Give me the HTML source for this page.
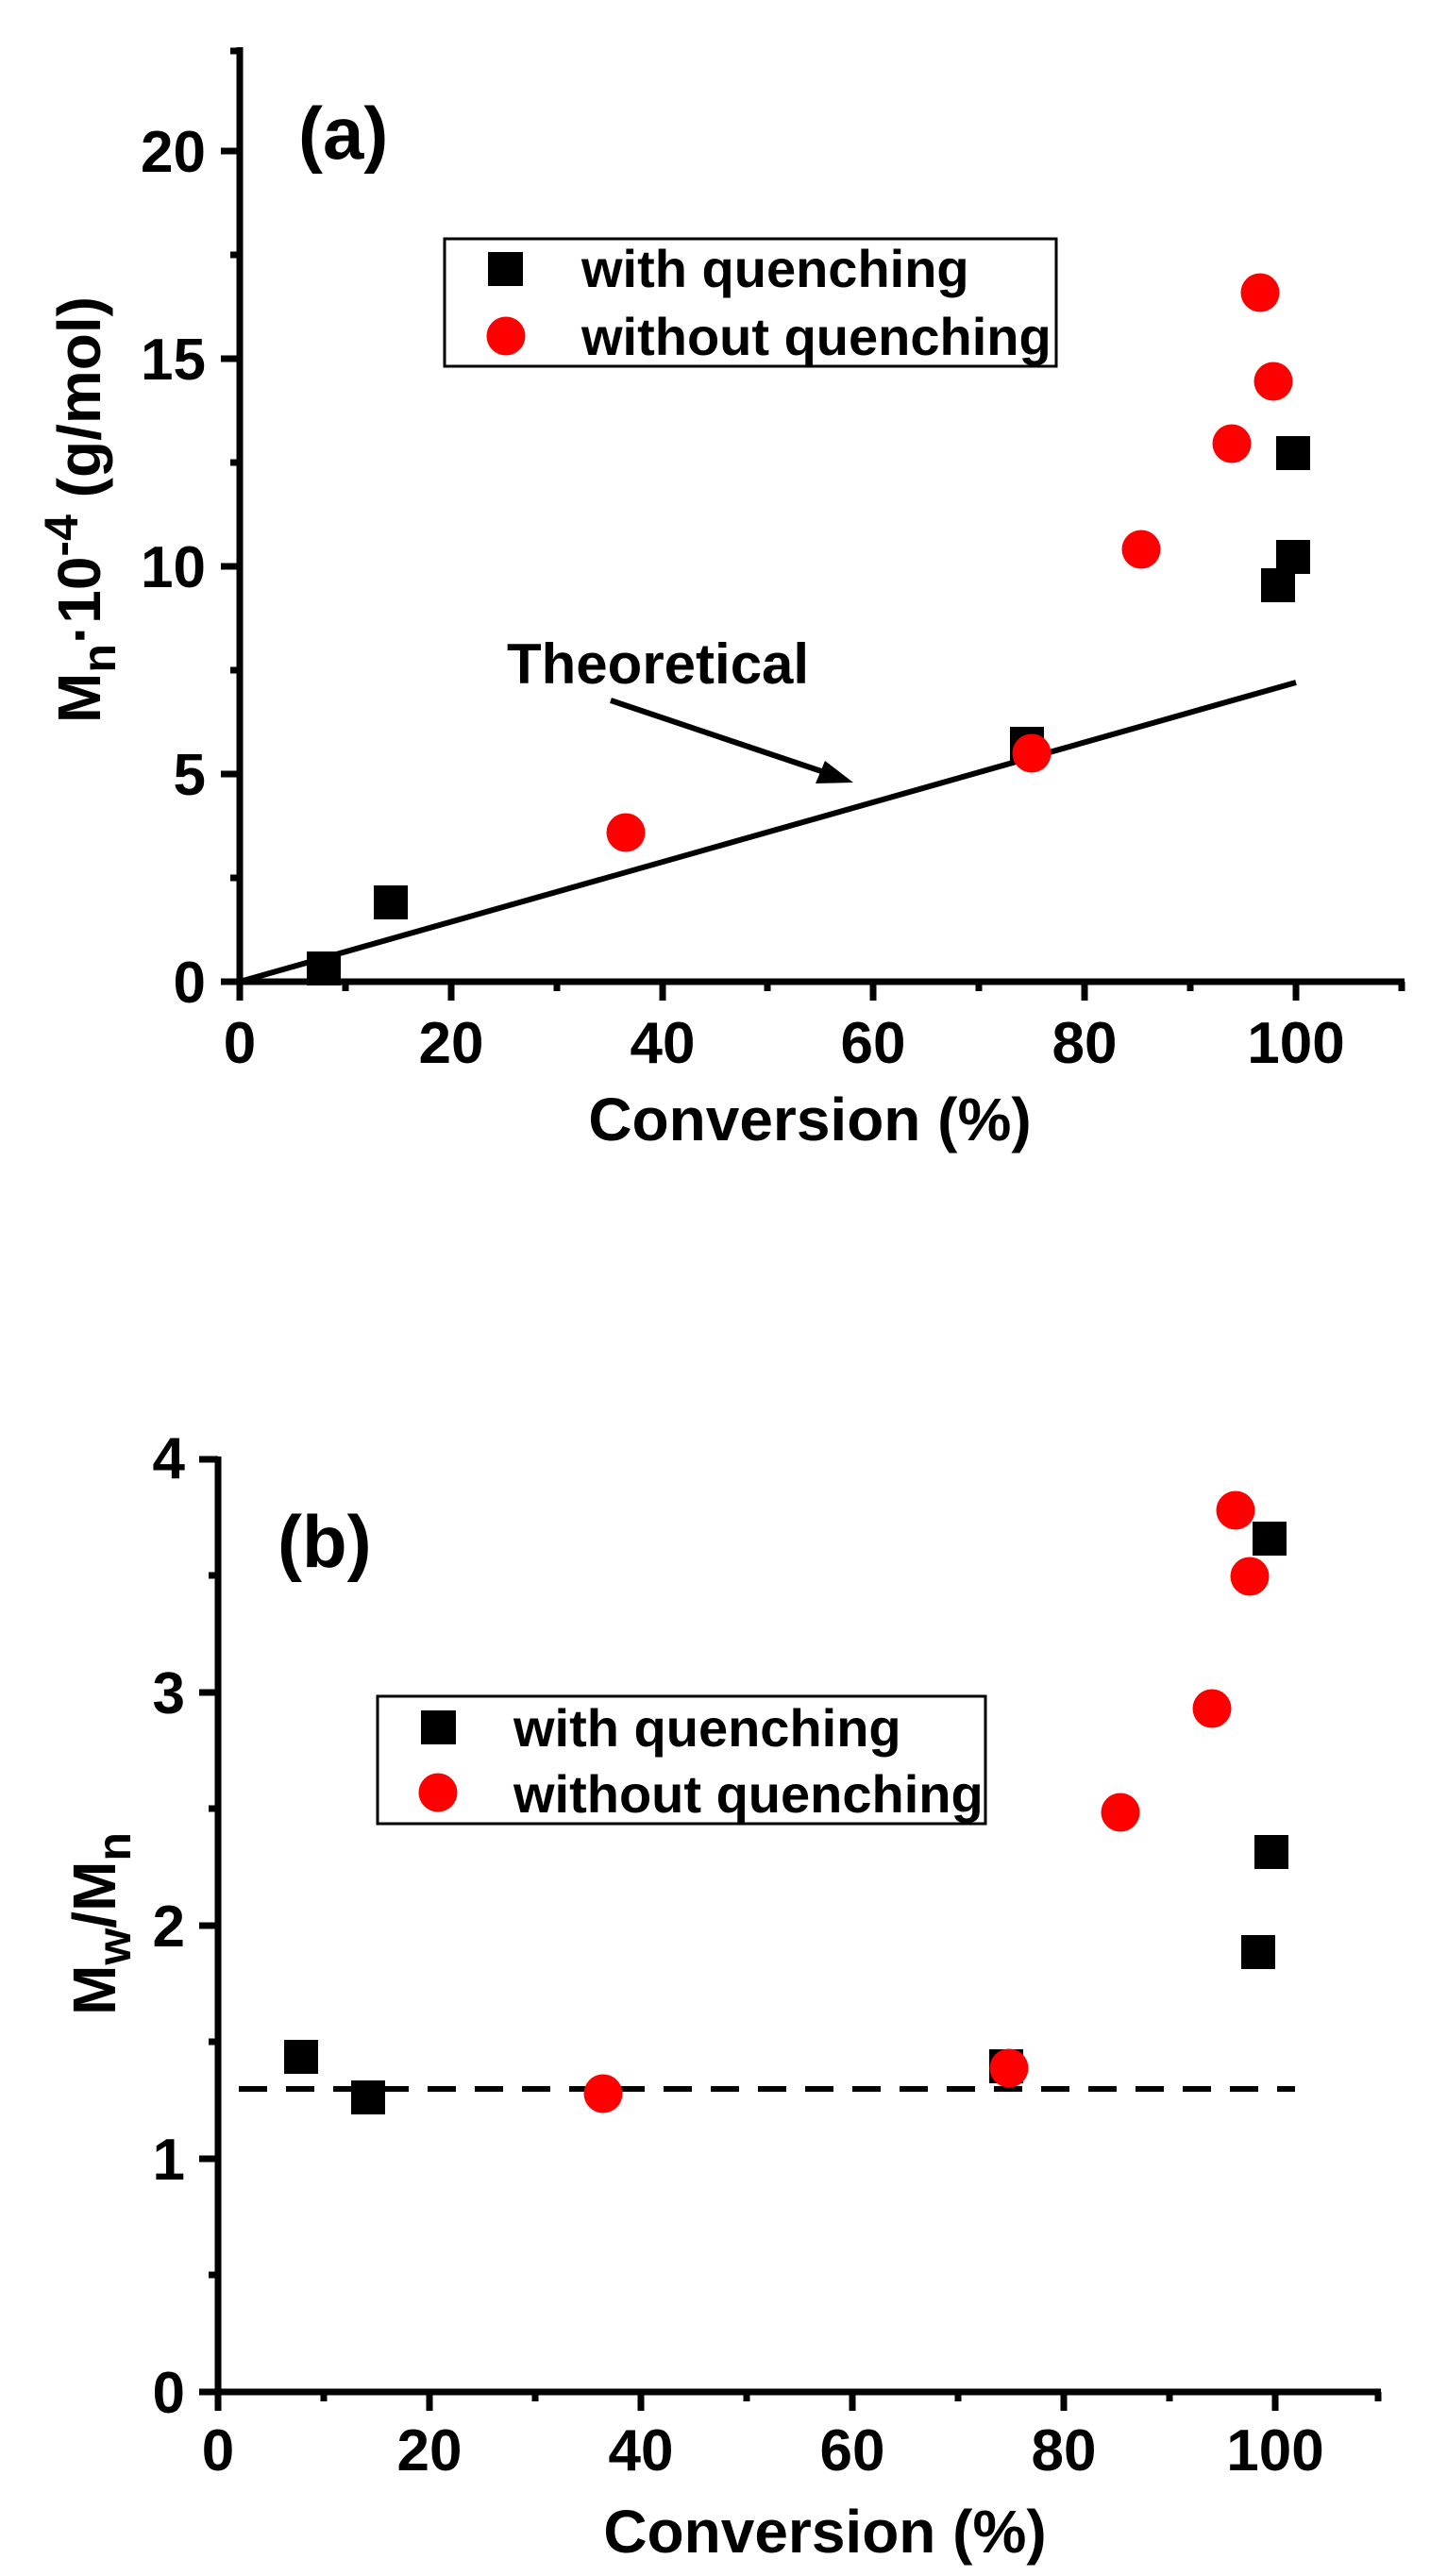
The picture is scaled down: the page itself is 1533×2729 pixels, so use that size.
<!DOCTYPE html>
<html><head><meta charset="utf-8"><style>
html,body{margin:0;padding:0;background:#fff;}
svg{display:block;}
text{font-family:"Liberation Sans",Arial,sans-serif;font-weight:bold;fill:#000;}
</style></head><body>
<svg width="1533" height="2729" viewBox="0 0 1533 2729" xmlns="http://www.w3.org/2000/svg">
<!-- ============ Chart (a) ============ -->
<g stroke="#000" stroke-width="7" fill="none">
<line x1="254" y1="50" x2="254" y2="1044"/>
<line x1="250" y1="1040" x2="1488" y2="1040"/>
</g>
<g stroke="#000" stroke-width="7">
<line x1="254" y1="1040" x2="254" y2="1060"/>
<line x1="478" y1="1040" x2="478" y2="1060"/>
<line x1="702" y1="1040" x2="702" y2="1060"/>
<line x1="925" y1="1040" x2="925" y2="1060"/>
<line x1="1149" y1="1040" x2="1149" y2="1060"/>
<line x1="1373" y1="1040" x2="1373" y2="1060"/>
<line x1="366" y1="1040" x2="366" y2="1050"/>
<line x1="590" y1="1040" x2="590" y2="1050"/>
<line x1="813" y1="1040" x2="813" y2="1050"/>
<line x1="1037" y1="1040" x2="1037" y2="1050"/>
<line x1="1261" y1="1040" x2="1261" y2="1050"/>
<line x1="1485" y1="1040" x2="1485" y2="1050"/>
<line x1="234" y1="1040" x2="254" y2="1040"/>
<line x1="234" y1="820" x2="254" y2="820"/>
<line x1="234" y1="600" x2="254" y2="600"/>
<line x1="234" y1="380" x2="254" y2="380"/>
<line x1="234" y1="160" x2="254" y2="160"/>
<line x1="244" y1="930" x2="254" y2="930"/>
<line x1="244" y1="710" x2="254" y2="710"/>
<line x1="244" y1="490" x2="254" y2="490"/>
<line x1="244" y1="270" x2="254" y2="270"/>
<line x1="244" y1="54" x2="254" y2="54"/>
</g>
<g font-size="62" text-anchor="middle">
<text x="254" y="1126">0</text>
<text x="478" y="1126">20</text>
<text x="702" y="1126">40</text>
<text x="925" y="1126">60</text>
<text x="1149" y="1126">80</text>
<text x="1373" y="1126">100</text>
</g>
<g font-size="62" text-anchor="end">
<text x="218" y="1062">0</text>
<text x="218" y="842">5</text>
<text x="218" y="622">10</text>
<text x="218" y="402">15</text>
<text x="218" y="182">20</text>
</g>
<text x="858" y="1208" font-size="64" text-anchor="middle">Conversion (%)</text>
<text transform="translate(106,540) rotate(-90)" font-size="64" text-anchor="middle">M<tspan font-size="50" dy="16">n</tspan><tspan dy="-16">·10</tspan><tspan font-size="50" dy="-24">-4</tspan><tspan dy="24"> (g/mol)</tspan></text>
<text x="316" y="168" font-size="78">(a)</text>
<line x1="254" y1="1040" x2="1373" y2="723" stroke="#000" stroke-width="6"/>
<text x="537" y="724" font-size="60">Theoretical</text>
<line x1="647" y1="742" x2="885" y2="822" stroke="#000" stroke-width="6"/>
<polygon points="904,829 864,830 874,806" fill="#000"/>
<rect x="471" y="253" width="648" height="135" fill="none" stroke="#000" stroke-width="3"/>
<rect x="517" y="267" width="37" height="36" fill="#000"/>
<circle cx="536" cy="356" r="20.5" fill="#f00"/>
<text x="616" y="304" font-size="56">with quenching</text>
<text x="616" y="376" font-size="56">without quenching</text>
<g fill="#000">
<rect x="325" y="1008" width="36" height="36"/>
<rect x="396" y="938" width="36" height="36"/>
<rect x="1070" y="770" width="36" height="36"/>
<rect x="1336" y="602" width="36" height="36"/>
<rect x="1352" y="572" width="36" height="36"/>
<rect x="1352" y="462" width="36" height="36"/>
</g>
<g fill="#f00">
<circle cx="663" cy="882" r="20.5"/>
<circle cx="1093" cy="798" r="20.5"/>
<circle cx="1209" cy="582" r="20.5"/>
<circle cx="1305" cy="470" r="20.5"/>
<circle cx="1335" cy="310" r="20.5"/>
<circle cx="1349" cy="404" r="20.5"/>
</g>

<!-- ============ Chart (b) ============ -->
<g stroke="#000" stroke-width="7" fill="none">
<line x1="231" y1="1543" x2="231" y2="2538"/>
<line x1="227" y1="2534" x2="1463" y2="2534"/>
</g>
<g stroke="#000" stroke-width="7">
<line x1="231" y1="2534" x2="231" y2="2554"/>
<line x1="455" y1="2534" x2="455" y2="2554"/>
<line x1="679" y1="2534" x2="679" y2="2554"/>
<line x1="903" y1="2534" x2="903" y2="2554"/>
<line x1="1127" y1="2534" x2="1127" y2="2554"/>
<line x1="1351" y1="2534" x2="1351" y2="2554"/>
<line x1="343" y1="2534" x2="343" y2="2544"/>
<line x1="567" y1="2534" x2="567" y2="2544"/>
<line x1="791" y1="2534" x2="791" y2="2544"/>
<line x1="1015" y1="2534" x2="1015" y2="2544"/>
<line x1="1239" y1="2534" x2="1239" y2="2544"/>
<line x1="1460" y1="2534" x2="1460" y2="2544"/>
<line x1="211" y1="2534" x2="231" y2="2534"/>
<line x1="211" y1="2287" x2="231" y2="2287"/>
<line x1="211" y1="2040" x2="231" y2="2040"/>
<line x1="211" y1="1793" x2="231" y2="1793"/>
<line x1="211" y1="1546" x2="231" y2="1546"/>
<line x1="221" y1="2410" x2="231" y2="2410"/>
<line x1="221" y1="2163" x2="231" y2="2163"/>
<line x1="221" y1="1916" x2="231" y2="1916"/>
<line x1="221" y1="1669" x2="231" y2="1669"/>
</g>
<g font-size="62" text-anchor="middle">
<text x="231" y="2617">0</text>
<text x="455" y="2617">20</text>
<text x="679" y="2617">40</text>
<text x="903" y="2617">60</text>
<text x="1127" y="2617">80</text>
<text x="1351" y="2617">100</text>
</g>
<g font-size="62" text-anchor="end">
<text x="196" y="2556">0</text>
<text x="196" y="2309">1</text>
<text x="196" y="2062">2</text>
<text x="196" y="1815">3</text>
<text x="196" y="1566">4</text>
</g>
<text x="874" y="2704" font-size="64" text-anchor="middle">Conversion (%)</text>
<text transform="translate(122,2038) rotate(-90)" font-size="64" text-anchor="middle">M<tspan font-size="50" dy="16">w</tspan><tspan dy="-16">/M</tspan><tspan font-size="50" dy="16">n</tspan></text>
<text x="294" y="1660" font-size="78">(b)</text>
<line x1="253" y1="2213" x2="1372" y2="2213" stroke="#000" stroke-width="6" stroke-dasharray="30,20"/>
<rect x="400" y="1797" width="644" height="135" fill="none" stroke="#000" stroke-width="3"/>
<rect x="446" y="1812" width="37" height="36" fill="#000"/>
<circle cx="464" cy="1899" r="20.5" fill="#f00"/>
<text x="544" y="1850" font-size="56">with quenching</text>
<text x="544" y="1920" font-size="56">without quenching</text>
<g fill="#000">
<rect x="301" y="2161" width="36" height="36"/>
<rect x="372" y="2204" width="36" height="36"/>
<rect x="1048" y="2171" width="36" height="36"/>
<rect x="1315" y="2050" width="36" height="36"/>
<rect x="1329" y="1944" width="36" height="36"/>
<rect x="1327" y="1612" width="36" height="36"/>
</g>
<g fill="#f00">
<circle cx="639" cy="2218" r="20.5"/>
<circle cx="1069" cy="2191" r="20.5"/>
<circle cx="1187" cy="1920" r="20.5"/>
<circle cx="1284" cy="1810" r="20.5"/>
<circle cx="1309" cy="1600" r="20.5"/>
<circle cx="1324" cy="1670" r="20.5"/>
</g>
</svg>
</body></html>
